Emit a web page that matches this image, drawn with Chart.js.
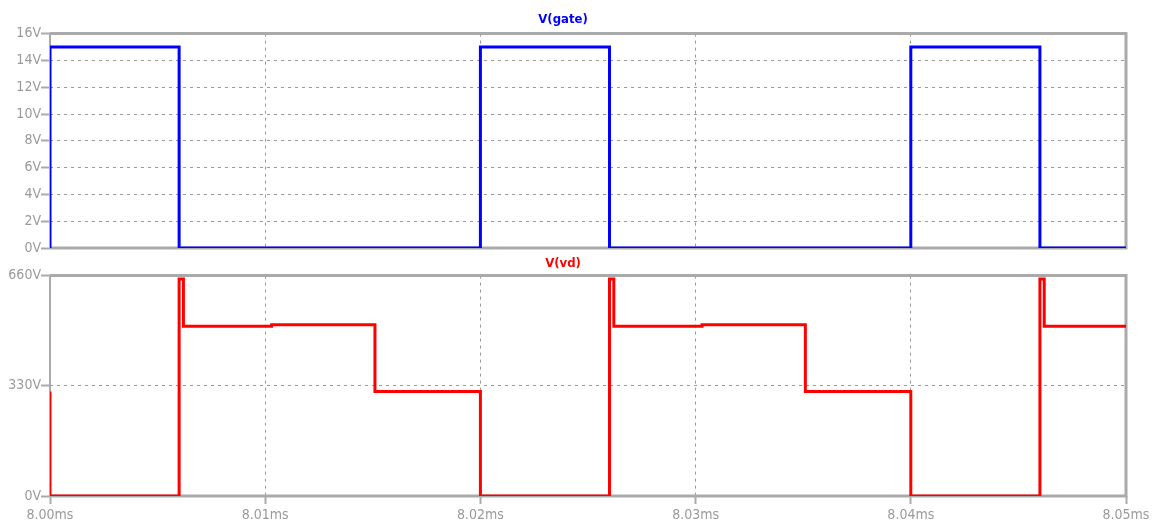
<!DOCTYPE html>
<html>
<head>
<meta charset="utf-8">
<script src="https://cdn.jsdelivr.net/npm/chart.js@4/dist/chart.umd.min.js"></script>
<style>
  html, body { margin: 0; padding: 0; background: #fff; }
  #wrap { position: relative; width: 1153px; height: 527px; }
  .pane { position: absolute; left: 0; }
</style>
</head>
<body>
<div id="wrap">
  <canvas id="gateChart" class="pane" style="top:0" width="1153" height="258"></canvas>
  <canvas id="vdChart" class="pane" style="top:252px" width="1153" height="275"></canvas>
</div>
<script>
// time axis in ms
const timeMin = 8.00;
const timeMax = 8.05;
const timeStep = 0.01;

// V(gate) trace
const gateTime = [8.000, 8.000, 8.006, 8.006, 8.020, 8.020, 8.026, 8.026, 8.040, 8.040, 8.046, 8.046, 8.050];
const gateVolt = [0, 15, 15, 0, 0, 15, 15, 0, 0, 15, 15, 0, 0];
const gateTicks = [0, 2, 4, 6, 8, 10, 12, 14, 16];

// V(vd) trace
const vdTime = [8.000, 8.000, 8.006, 8.006, 8.0062, 8.0062, 8.0103, 8.0103, 8.0151, 8.0151, 8.020, 8.020,
                8.026, 8.026, 8.0262, 8.0262, 8.0303, 8.0303, 8.0351, 8.0351, 8.040, 8.040,
                8.046, 8.046, 8.0462, 8.0462, 8.050];
const vdVolt = [313, 0, 0, 650, 650, 508, 508, 513, 513, 313, 313, 0,
                0, 650, 650, 508, 508, 513, 513, 313, 313, 0,
                0, 650, 650, 508, 508];
const vdTicks = [0, 330, 660];

const FONT = "'Liberation Sans Narrow', 'DejaVu Sans Condensed', 'Arial Narrow', sans-serif";
const GRAY = '#aaaaaa';
const LABEL = '#9a9a9a';

const toPoints = (xs, ys) => xs.map((x, i) => ({ x: x, y: ys[i] }));

// solid frame around the plot area, under the trace
const framePlugin = {
    id: 'frame',
    beforeDatasetsDraw(chart) {
        const a = chart.chartArea;
        const ctx = chart.ctx;
        ctx.save();
        ctx.strokeStyle = GRAY;
        ctx.lineWidth = 3;
        ctx.beginPath();
        ctx.moveTo(a.left, a.top);
        ctx.lineTo(a.right, a.top);
        ctx.lineTo(a.right, a.bottom);
        ctx.lineTo(a.left, a.bottom);
        ctx.stroke();
        ctx.lineWidth = 2;
        ctx.beginPath();
        ctx.moveTo(a.left, a.top);
        ctx.lineTo(a.left, a.bottom);
        ctx.stroke();
        ctx.restore();
    }
};

function makePane(id, opts) {
    const ctx = document.getElementById(id).getContext('2d');
    return new Chart(ctx, {
        type: 'line',
        data: {
            datasets: [{
                label: opts.title,
                data: opts.points,
                borderColor: opts.color,
                borderWidth: 3,
                borderJoinStyle: 'miter',
                pointRadius: 0,
                tension: 0,
                fill: false
            }]
        },
        options: {
            responsive: false,
            animation: false,
            devicePixelRatio: 1,
            layout: { padding: { left: 0, right: 27, top: 0, bottom: 0 } },
            plugins: {
                legend: { display: false },
                tooltip: { enabled: false },
                title: {
                    display: true,
                    text: opts.title,
                    color: opts.color,
                    font: { family: FONT, size: 13, weight: 'bold', lineHeight: 1.2 },
                    padding: opts.titlePad
                }
            },
            scales: {
                x: {
                    type: 'linear',
                    min: timeMin,
                    max: timeMax,
                    afterFit: s => { s.height = opts.xHeight; },
                    border: { display: false, dash: [3, 4] },
                    grid: {
                        color: '#999999',
                        lineWidth: 1,
                        drawTicks: opts.showTime,
                        tickLength: 8,
                        tickWidth: 2,
                        tickColor: GRAY,
                        tickBorderDash: []
                    },
                    ticks: {
                        display: opts.showTime,
                        stepSize: timeStep,
                        padding: 3,
                        color: LABEL,
                        font: { family: FONT, size: 14 },
                        maxRotation: 0,
                        callback: v => v.toFixed(2) + 'ms'
                    }
                },
                y: {
                    min: opts.ticks[0],
                    max: opts.ticks[opts.ticks.length - 1],
                    afterFit: s => { s.width = 50; },
                    afterBuildTicks: s => { s.ticks = opts.ticks.map(v => ({ value: v })); },
                    border: { display: false, dash: [3, 4] },
                    grid: {
                        color: '#999999',
                        lineWidth: 1,
                        tickLength: 9,
                        tickWidth: 2,
                        tickColor: GRAY,
                        tickBorderDash: []
                    },
                    ticks: {
                        padding: 0,
                        color: LABEL,
                        font: { family: FONT, size: 14 },
                        callback: v => v + 'V'
                    }
                }
            }
        },
        plugins: [framePlugin]
    });
}

const gateChart = makePane('gateChart', {
    title: 'V(gate)',
    color: '#0000ff',
    points: toPoints(gateTime, gateVolt),
    ticks: gateTicks,
    titlePad: { top: 12, bottom: 6 },
    xHeight: 10,
    showTime: false
});

const vdChart = makePane('vdChart', {
    title: 'V(vd)',
    color: '#ff0000',
    points: toPoints(vdTime, vdVolt),
    ticks: vdTicks,
    titlePad: { top: 4, bottom: 4 },
    xHeight: 31,
    showTime: true
});
</script>
</body>
</html>
